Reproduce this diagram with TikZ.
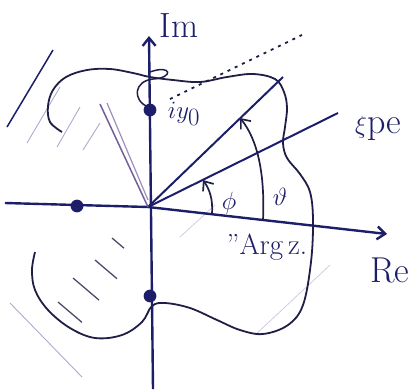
\documentclass[tikz,border=0pt]{standalone}
\usepackage{amsmath, amssymb}
\usetikzlibrary{arrows.meta}
\definecolor{ink}{RGB}{28,30,105}
\definecolor{inkdark}{RGB}{30,30,70}
\definecolor{pencil}{RGB}{115,95,155}
\definecolor{faint}{RGB}{175,170,205}
\tikzset{
  dot/.style={circle, fill=ink, inner sep=4.5pt},
  lbl/.style={text=ink, inner sep=0pt},
}

\begin{document}
\begin{tikzpicture}[>={Straight Barb[length=8pt,width=13pt]}, x=1pt, y=-1pt]
  \useasboundingbox (0,0) rectangle (414,389);
  % faint hatching
  \draw[faint, line width=0.9pt] (27,143) -- (60,87);
  \draw[faint, line width=0.9pt] (57,147) -- (80,107);
  \draw[faint, line width=0.9pt] (83,150) -- (100,123);
  \draw[faint, line width=0.9pt] (10,303) -- (82,377);
  \draw[faint!60, line width=0.8pt] (180,237) -- (215,205);
  \draw[faint!60, line width=0.8pt] (255,335) -- (330,265);
  \draw[ink, line width=1.5pt] (7,127) -- (53,50);
  \foreach \a/\b/\l in {112/238/12, 95/260/22, 73/278/26, 58/302/24}
    \draw[inkdark!80, line width=1.3pt] (\a,\b) -- ++(\l,0.85*\l);
  % axes
  \coordinate (O) at (148,207);
  \draw[->, ink, line width=2.4pt] (5,203) -- (O) -- (387,234);
  \draw[->, ink, line width=2.4pt] (153,389) -- (149,36);
  \node[lbl, font=\fontsize{36}{40}\selectfont] (re) at (390,270) {Re};
  \node[lbl, font=\fontsize{35}{39}\selectfont] (im) at (179,26) {Im};
  % region
  \draw[inkdark, line width=1.8pt] plot[smooth, tension=0.6] coordinates {
    (62,132) (50,122) (48,106) (53,90) (66,77) (87,70) (110,69) (133,73)
    (150,77) (173,80) (200,82) (227,77) (253,74) (275,79) (284,92)
    (287,108) (285,127) (283,143) (287,158) (300,174) (310,192) (313,220)
    (311,262) (303,305) (288,325) (263,334) (240,330) (217,320) (190,308)
    (165,303) (152,306) (142,322) (122,335) (95,338) (70,328) (48,310)
    (35,290) (32,270) (35,252)};
  \draw[inkdark, line width=1.5pt] (150,72) .. controls (172,64) and (174,78) .. (153,79)
    .. controls (134,81) and (132,100) .. (148,107);
  \draw[inkdark, line width=1.8pt, dash pattern=on 3pt off 5pt] (170,99) -- (302,35);
  % rays
  \draw[ink, line width=2pt] (O) -- (283,77);
  \draw[ink, line width=2pt] (O) -- (338,113);
  \draw[pencil, line width=1.5pt] (O) -- (100,104);
  \draw[pencil!70, line width=1.2pt] (148,200) -- (107,103);
  \node[lbl, font=\fontsize{36}{40}\selectfont, anchor=west] (xi) at (355,128) {$\xi$pe};
  % angles
  \draw[->, inkdark, line width=1.7pt] (263,220) .. controls (265,175) and (258,140) .. (240,118);
  \draw[->, inkdark, line width=1.7pt] (212,214) .. controls (213,200) and (210,190) .. (203,180);
  \node[lbl, font=\fontsize{30}{34}\selectfont] (th) at (280,197) {$\vartheta$};
  \node[lbl, font=\fontsize{32}{36}\selectfont] (ph) at (229,203) {$\phi$};
  \node[lbl, font=\fontsize{29}{33}\selectfont] (arg) at (267,247) {''Arg\,z.};
  % points
  \node[dot] (y0) at (150,110) {};
  \node[dot] (x0) at (77,206) {};
  \node[dot] (y1) at (150,296) {};
  \node[lbl, font=\fontsize{36}{40}\selectfont] (iy) at (184,114) {$iy_0$};
\end{tikzpicture}
\end{document}
